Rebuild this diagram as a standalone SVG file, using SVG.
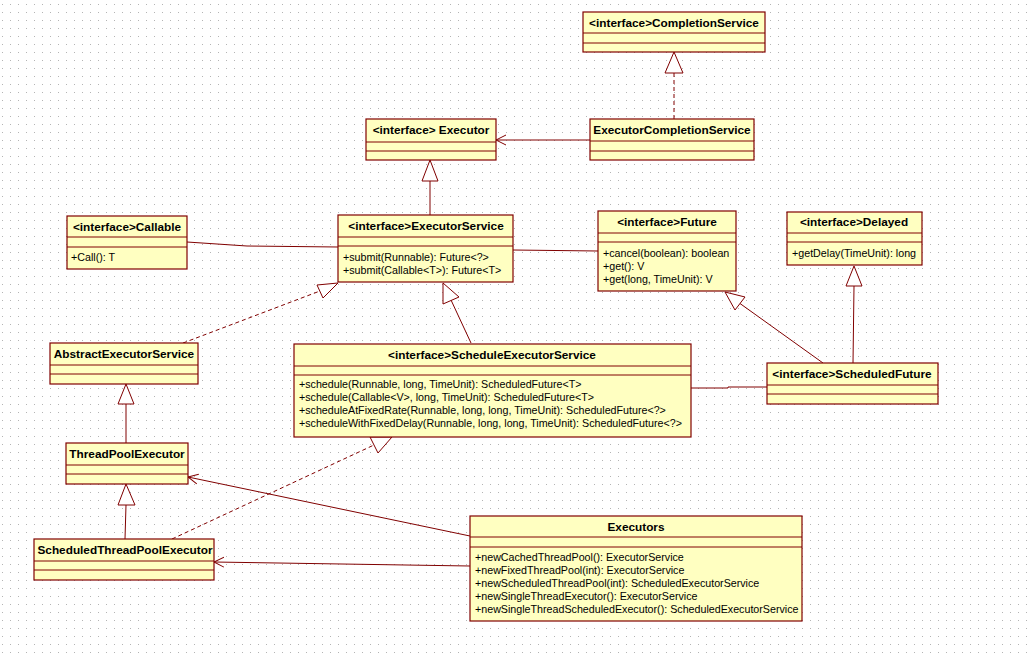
<svg xmlns="http://www.w3.org/2000/svg" width="1031" height="660" viewBox="0 0 1031 660">
<defs>
<pattern id="grid" x="0" y="0" width="8" height="8" patternUnits="userSpaceOnUse">
<rect x="2" y="4" width="1" height="1" fill="#b4b4b4"/>
</pattern>
<marker id="open" markerUnits="userSpaceOnUse" markerWidth="12" markerHeight="12" refX="10" refY="5" orient="auto" viewBox="0 0 12 10">
<path d="M0,0 L10,5 L0,10" fill="none" stroke="#800000" stroke-width="1"/>
</marker>
</defs>
<style>
.box{fill:#ffffc1;stroke:#800000;stroke-width:1.2}
.sep{stroke:#800000;stroke-width:1}
.t{font-family:"Liberation Sans",Arial,sans-serif;font-weight:bold;font-size:11.8px;fill:#000;text-anchor:middle}
.m{font-family:"Liberation Sans",Arial,sans-serif;font-size:10.7px;fill:#000}
.ln{fill:none;stroke:#800000;stroke-width:1}
.dash{fill:none;stroke:#800000;stroke-width:1;stroke-dasharray:4,3}
.tri{fill:#ffffff;stroke:#800000;stroke-width:1}
</style>
<rect width="1031" height="660" fill="#ffffff"/>
<rect width="1031" height="660" fill="url(#grid)"/>

<g id="connectors">
<line class="dash" x1="674" y1="119" x2="674" y2="73"/>
<polygon class="tri" points="674,52 665,73 683,73"/>
<line class="ln" x1="590" y1="140" x2="496" y2="140" marker-end="url(#open)"/>
<line class="ln" x1="430" y1="215" x2="430" y2="181"/>
<polygon class="tri" points="430,160 422,181 438,181"/>
<polyline class="ln" points="187,242 247,246 338,247"/>
<line class="ln" x1="513" y1="250" x2="598" y2="251"/>
<line class="dash" x1="183" y1="343" x2="320" y2="291"/>
<polygon class="tri" points="338,283 317,285 323,298"/>
<line class="ln" x1="471" y1="343" x2="451" y2="300"/>
<polygon class="tri" points="443,283 443,304 459,297"/>
<polyline class="ln" points="691,388 728,388 728,387 767,387"/>
<line class="ln" x1="823" y1="363" x2="740" y2="303.5"/>
<polygon class="tri" points="725,292 745,297 735,310"/>
<line class="ln" x1="853" y1="363" x2="854" y2="286"/>
<polygon class="tri" points="854,266 846,286 862,286"/>
<line class="ln" x1="126" y1="443" x2="126" y2="404"/>
<polygon class="tri" points="126,384 118,404 134,404"/>
<line class="ln" x1="125" y1="539" x2="126" y2="505"/>
<polygon class="tri" points="126,484 118,505 135,505"/>
<line class="dash" x1="172" y1="539" x2="374" y2="445"/>
<polygon class="tri" points="392,437 370,437 378,453"/>
<line class="ln" x1="470" y1="536" x2="188" y2="477" marker-end="url(#open)"/>
<line class="ln" x1="470" y1="566" x2="214" y2="562" marker-end="url(#open)"/>
</g>

<g id="CompletionService">
<rect class="box" x="583" y="12" width="182" height="40"/>
<line class="sep" x1="583" y1="33" x2="765" y2="33"/>
<line class="sep" x1="583" y1="43" x2="765" y2="43"/>
<text class="t" x="674" y="27">&lt;interface&gt;CompletionService</text>
</g>

<g id="ExecutorCompletionService">
<rect class="box" x="590" y="119" width="164" height="41"/>
<line class="sep" x1="590" y1="141" x2="754" y2="141"/>
<line class="sep" x1="590" y1="151" x2="754" y2="151"/>
<text class="t" x="672" y="134">ExecutorCompletionService</text>
</g>

<g id="Executor">
<rect class="box" x="366" y="119" width="130" height="41"/>
<line class="sep" x1="366" y1="142" x2="496" y2="142"/>
<line class="sep" x1="366" y1="151" x2="496" y2="151"/>
<text class="t" x="431" y="134">&lt;interface&gt; Executor</text>
</g>

<g id="Callable">
<rect class="box" x="67" y="216" width="120" height="53"/>
<line class="sep" x1="67" y1="237" x2="187" y2="237"/>
<line class="sep" x1="67" y1="247" x2="187" y2="247"/>
<text class="t" x="127" y="231">&lt;interface&gt;Callable</text>
<text class="m" x="71" y="261">+Call(): T</text>
</g>

<g id="ExecutorService">
<rect class="box" x="338" y="215" width="175" height="67"/>
<line class="sep" x1="338" y1="237" x2="513" y2="237"/>
<line class="sep" x1="338" y1="246" x2="513" y2="246"/>
<text class="t" x="426" y="230">&lt;interface&gt;ExecutorService</text>
<text class="m" x="343" y="261">+submit(Runnable): Future&lt;?&gt;</text>
<text class="m" x="343" y="274">+submit(Callable&lt;T&gt;): Future&lt;T&gt;</text>
</g>

<g id="Future">
<rect class="box" x="598" y="211" width="138" height="80"/>
<line class="sep" x1="598" y1="233" x2="736" y2="233"/>
<line class="sep" x1="598" y1="242" x2="736" y2="242"/>
<text class="t" x="667" y="226">&lt;interface&gt;Future</text>
<text class="m" x="603" y="257">+cancel(boolean): boolean</text>
<text class="m" x="603" y="270">+get(): V</text>
<text class="m" x="603" y="283">+get(long, TimeUnit): V</text>
</g>

<g id="Delayed">
<rect class="box" x="787" y="212" width="135" height="53"/>
<line class="sep" x1="787" y1="233" x2="922" y2="233"/>
<line class="sep" x1="787" y1="242" x2="922" y2="242"/>
<text class="t" x="854" y="226">&lt;interface&gt;Delayed</text>
<text class="m" x="792" y="257">+getDelay(TimeUnit): long</text>
</g>

<g id="AbstractExecutorService">
<rect class="box" x="50" y="343" width="148" height="41"/>
<line class="sep" x1="50" y1="365" x2="198" y2="365"/>
<line class="sep" x1="50" y1="374" x2="198" y2="374"/>
<text class="t" x="124" y="358">AbstractExecutorService</text>
</g>

<g id="ScheduleExecutorService">
<rect class="box" x="294" y="344" width="397" height="93"/>
<line class="sep" x1="294" y1="366" x2="691" y2="366"/>
<line class="sep" x1="294" y1="375" x2="691" y2="375"/>
<text class="t" x="492" y="359">&lt;interface&gt;ScheduleExecutorService</text>
<text class="m" x="299" y="388">+schedule(Runnable, long, TimeUnit): ScheduledFuture&lt;T&gt;</text>
<text class="m" x="299" y="401">+schedule(Callable&lt;V&gt;, long, TimeUnit): ScheduledFuture&lt;T&gt;</text>
<text class="m" x="299" y="414">+scheduleAtFixedRate(Runnable, long, long, TimeUnit): ScheduledFuture&lt;?&gt;</text>
<text class="m" x="299" y="427">+scheduleWithFixedDelay(Runnable, long, long, TimeUnit): ScheduledFuture&lt;?&gt;</text>
</g>

<g id="ScheduledFuture">
<rect class="box" x="767" y="363" width="171" height="41"/>
<line class="sep" x1="767" y1="385" x2="938" y2="385"/>
<line class="sep" x1="767" y1="394" x2="938" y2="394"/>
<text class="t" x="852" y="378">&lt;interface&gt;ScheduledFuture</text>
</g>

<g id="ThreadPoolExecutor">
<rect class="box" x="66" y="443" width="122" height="41"/>
<line class="sep" x1="66" y1="465" x2="188" y2="465"/>
<line class="sep" x1="66" y1="474" x2="188" y2="474"/>
<text class="t" x="127" y="458">ThreadPoolExecutor</text>
</g>

<g id="ScheduledThreadPoolExecutor">
<rect class="box" x="34" y="539" width="180" height="41"/>
<line class="sep" x1="34" y1="561" x2="214" y2="561"/>
<line class="sep" x1="34" y1="570" x2="214" y2="570"/>
<text class="t" x="125" y="554">ScheduledThreadPoolExecutor</text>
</g>

<g id="Executors">
<rect class="box" x="470" y="516" width="332" height="105"/>
<line class="sep" x1="470" y1="537" x2="802" y2="537"/>
<line class="sep" x1="470" y1="547" x2="802" y2="547"/>
<text class="t" x="636" y="531">Executors</text>
<text class="m" x="475" y="561">+newCachedThreadPool(): ExecutorService</text>
<text class="m" x="475" y="574">+newFixedThreadPool(int): ExecutorService</text>
<text class="m" x="475" y="587">+newScheduledThreadPool(int): ScheduledExecutorService</text>
<text class="m" x="475" y="600">+newSingleThreadExecutor(): ExecutorService</text>
<text class="m" x="475" y="613">+newSingleThreadScheduledExecutor(): ScheduledExecutorService</text>
</g>
</svg>
